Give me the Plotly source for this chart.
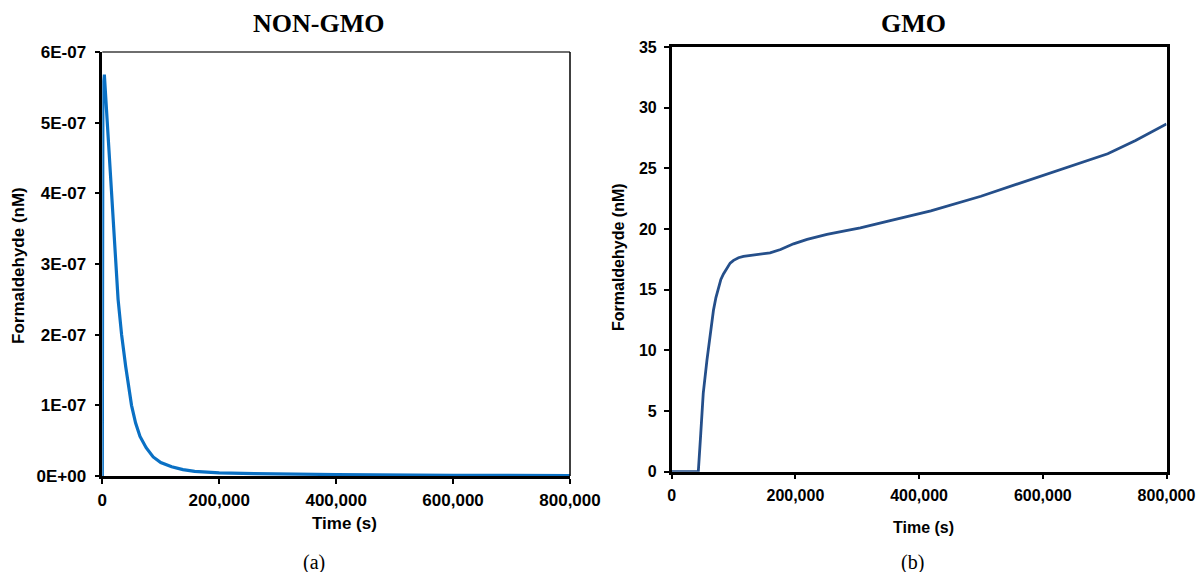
import plotly.graph_objects as go

# ---------------- data ----------------
nongmo_time = [0, 1000, 3500, 8500, 15000, 22000, 27000, 33000, 40000, 50000, 57000,
               64500, 75000, 87000, 100000, 118600, 138000, 158000, 200000, 260000, 400000,
               600000, 800000]
nongmo_conc = [0, 5.50e-07, 5.68e-07, 5.00e-07, 4.00e-07, 3.05e-07, 2.50e-07, 2.00e-07,
               1.55e-07, 1.00e-07, 0.75e-07, 0.56e-07, 0.40e-07, 0.27e-07, 0.19e-07,
               0.13e-07, 0.09e-07, 0.065e-07, 0.045e-07, 0.035e-07, 0.02e-07, 0.01e-07,
               0.005e-07]

gmo_time = [0, 43000, 47000, 51000, 57000, 62000, 67500, 71500, 75600, 79500, 83700,
            89000, 94500, 100000, 108000, 116000, 127000, 143000, 159000, 176000, 187000,
            197000, 219000, 251000, 284000, 305000, 350000, 419000, 500000, 559000,
            600000, 650000, 705000, 750000, 800000]
gmo_conc = [0, 0, 3.16, 6.45, 9.19, 11.38, 13.3, 14.35, 15.2, 15.85, 16.3,
            16.8, 17.19, 17.42, 17.63, 17.75, 17.82, 17.88, 18.04, 18.31, 18.55,
            18.78, 19.14, 19.55, 19.88, 20.1, 20.65, 21.5, 22.7, 23.7,
            24.4, 25.25, 26.2, 27.3, 28.65]

x_ticks = [0, 200000, 400000, 600000, 800000]
x_tick_labels = ["0", "200,000", "400,000", "600,000", "800,000"]
left_y_ticks = [0, 1e-07, 2e-07, 3e-07, 4e-07, 5e-07, 6e-07]
left_y_labels = ["0E+00", "1E-07", "2E-07", "3E-07", "4E-07", "5E-07", "6E-07"]
right_y_ticks = [0, 5, 10, 15, 20, 25, 30, 35]

W, H = 1198, 572
def px(x):
    return x / W
def py(y):
    return 1 - y / H

SANS = "Liberation Sans, Arial, sans-serif"
SERIF = "Liberation Serif, Times New Roman, serif"

fig = go.Figure()
fig.add_trace(go.Scatter(x=nongmo_time, y=nongmo_conc, mode="lines",
                         line=dict(color="#0A70C4", width=3.2), xaxis="x", yaxis="y",
                         showlegend=False))
fig.add_trace(go.Scatter(x=gmo_time, y=gmo_conc, mode="lines",
                         line=dict(color="#254F8A", width=2.8), xaxis="x2", yaxis="y2",
                         showlegend=False))

axis_common = dict(showgrid=False, zeroline=False, showline=True, linecolor="black",
                   ticks="outside", ticklen=5, tickcolor="black", tickwidth=2,
                   automargin=False)

fig.update_layout(
    width=W, height=H,
    margin=dict(l=0, r=0, t=0, b=0, autoexpand=False),
    paper_bgcolor="white", plot_bgcolor="white",
    xaxis=dict(domain=[px(102.3), px(570)], range=[0, 800000], tickvals=x_ticks,
               ticktext=x_tick_labels, linewidth=2.5, anchor="y", ticklabelstandoff=2,
               tickfont=dict(family=SANS, size=17, color="black", weight="bold"),
               **axis_common),
    yaxis=dict(domain=[py(476), py(52)], range=[0, 6e-07], tickvals=left_y_ticks,
               ticktext=left_y_labels, linewidth=2.5, anchor="x", ticklabelstandoff=5,
               tickfont=dict(family=SANS, size=17, color="black", weight="bold"),
               **axis_common),
    xaxis2=dict(domain=[px(671.7), px(1166.5)], range=[0, 800000], tickvals=x_ticks,
                ticktext=x_tick_labels, linewidth=2.5, anchor="y2", mirror=True,
                ticklabelstandoff=2,
                tickfont=dict(family=SANS, size=16, color="black", weight="bold"),
                **axis_common),
    yaxis2=dict(domain=[py(471.7), py(47)], range=[0, 35], tickvals=right_y_ticks,
                linewidth=2.5, anchor="x2", mirror=True, ticklabelstandoff=4,
                tickfont=dict(family=SANS, size=16, color="black", weight="bold"),
                **axis_common),
)

# left panel top (grey) and right (black) borders
fig.add_shape(type="line", xref="x domain", yref="y domain", x0=0, x1=1, y0=1, y1=1,
              line=dict(color="#6E6E6E", width=2))
fig.add_shape(type="line", xref="x domain", yref="y domain", x0=1, x1=1, y0=0, y1=1,
              line=dict(color="black", width=1.5))

def ann(text, x, y, size, family, bold=True, angle=0):
    fig.add_annotation(text=text, x=px(x), y=py(y), xref="paper", yref="paper",
                       showarrow=False, xanchor="center", yanchor="middle", textangle=angle,
                       font=dict(family=family, size=size, color="black",
                                 weight="bold" if bold else "normal"))

ann("NON-GMO", 318, 23, 26, SERIF)
ann("GMO", 914, 23, 26, SERIF)
ann("Time (s)", 344, 523, 17, SANS)
ann("Time (s)", 923, 527, 16, SANS)
ann("Formaldehyde (nM)", 18, 266, 17, SANS, angle=-90)
ann("Formaldehyde (nM)", 618, 257, 16, SANS, angle=-90)
ann("(a)", 314, 562, 20, SERIF, bold=False)
ann("(b)", 913, 562, 20, SERIF, bold=False)

fig.write_html("out.html")
